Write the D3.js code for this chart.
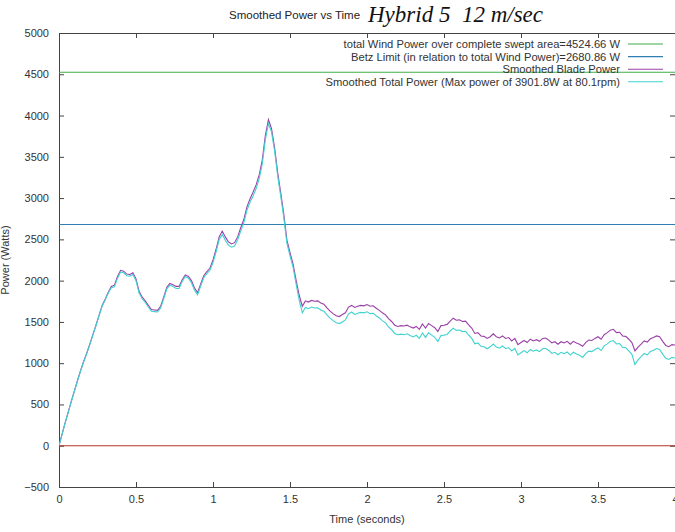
<!DOCTYPE html>
<html>
<head>
<meta charset="utf-8">
<style>
  html, body { margin: 0; padding: 0; background: #fff; }
  svg { display: block; }
</style>
<script src="https://cdn.jsdelivr.net/npm/d3@7"></script>
</head>
<body>
<svg id="chart" width="675" height="532" font-family="'Liberation Sans', Arial, sans-serif"></svg>
<script>
// Samples are recorded every 0.02 s from 0 to 4 s.
const sampleStep = 0.02;

// Smoothed Blade Power (W)
const bladePower = [
  0, 140, 280, 410, 540, 665, 790, 910, 1020, 1120,
  1230, 1345, 1460, 1580, 1700, 1775, 1860, 1930, 1945, 2050,
  2125, 2115, 2080, 2075, 2095, 2020, 1870, 1800, 1755, 1700,
  1650, 1645, 1640, 1690, 1800, 1920, 1965, 1950, 1930, 1930,
  2010, 2070, 2050, 2000, 1910, 1855, 1960, 2060, 2110, 2150,
  2250, 2380, 2530, 2600, 2530, 2470, 2445, 2460, 2530, 2640,
  2740, 2890, 2990, 3070, 3160, 3280, 3460, 3760, 3950, 3840,
  3610, 3310, 3060, 2800, 2490, 2340, 2200, 2000, 1820, 1690,
  1755, 1740, 1760, 1750, 1755, 1730, 1715, 1670, 1630, 1600,
  1575, 1565, 1590, 1610, 1680, 1700, 1675, 1690, 1700, 1695,
  1710, 1690, 1695, 1665, 1640, 1610, 1585, 1540, 1505, 1460,
  1445, 1455, 1450, 1460, 1440, 1425, 1445, 1410, 1475, 1425,
  1480, 1455, 1430, 1385, 1455, 1460, 1470, 1510, 1545, 1520,
  1525, 1505, 1510, 1465, 1425, 1360, 1370, 1330, 1325, 1300,
  1320, 1355, 1320, 1305, 1330, 1300, 1310, 1270, 1300, 1225,
  1250, 1275, 1250, 1290, 1270, 1285, 1265, 1300, 1305, 1280,
  1245, 1260, 1230, 1260, 1245, 1265, 1230, 1265, 1245, 1230,
  1205, 1250, 1280, 1275, 1300, 1320, 1290, 1345, 1370, 1400,
  1410, 1370, 1375, 1330, 1325, 1290, 1250, 1150, 1195, 1230,
  1270, 1255, 1295, 1310, 1330, 1320, 1265, 1215, 1200, 1225,
  1220
];

// Smoothed Total Power (W)
const totalPower = [
  0, 138, 277, 405, 535, 660, 785, 905, 1015, 1115,
  1225, 1340, 1455, 1575, 1690, 1765, 1850, 1915, 1925, 2030,
  2105, 2095, 2060, 2055, 2075, 2000, 1850, 1780, 1735, 1680,
  1630, 1625, 1620, 1670, 1780, 1900, 1945, 1930, 1905, 1905,
  1990, 2050, 2030, 1975, 1885, 1830, 1935, 2035, 2085, 2125,
  2220, 2350, 2495, 2560, 2490, 2430, 2405, 2420, 2495, 2600,
  2700, 2850, 2950, 3025, 3115, 3235, 3415, 3710, 3902, 3800,
  3570, 3270, 3020, 2760, 2450, 2300, 2160, 1955, 1760, 1610,
  1675, 1660, 1680, 1668, 1672, 1645, 1630, 1585, 1545, 1515,
  1490, 1480, 1500, 1525, 1595, 1620, 1590, 1605, 1615, 1610,
  1622, 1600, 1605, 1575, 1548, 1515, 1488, 1440, 1405, 1360,
  1345, 1352, 1345, 1356, 1335, 1318, 1338, 1300, 1365, 1312,
  1368, 1340, 1312, 1263, 1335, 1340, 1348, 1390, 1425, 1398,
  1402, 1383, 1386, 1340, 1300, 1235, 1245, 1205, 1200, 1175,
  1198, 1232, 1195, 1182, 1208, 1178, 1187, 1147, 1178, 1100,
  1127, 1152, 1126, 1166, 1145, 1160, 1140, 1175, 1180, 1154,
  1118, 1132, 1102, 1132, 1115, 1135, 1098, 1133, 1112, 1097,
  1070, 1115, 1146, 1140, 1165, 1185, 1154, 1210, 1234, 1264,
  1274, 1233, 1238, 1192, 1186, 1150, 1108, 985, 1040, 1078,
  1118, 1102, 1142, 1157, 1177, 1166, 1110, 1060, 1045, 1070,
  1062
];

// Reference levels (W)
const windPower = 4524.66;
const betzLimit = 2680.86;

const xTicks = [0, 0.5, 1, 1.5, 2, 2.5, 3, 3.5, 4];
const yTicks = [-500, 0, 500, 1000, 1500, 2000, 2500, 3000, 3500, 4000, 4500, 5000];

const legendLabels = [
  "total Wind Power over complete swept area=4524.66 W",
  "Betz Limit (in relation to total Wind Power)=2680.86 W",
  "Smoothed Blade Power",
  "Smoothed Total Power (Max power of 3901.8W at 80.1rpm)"
];

const colors = {
  wind: "#3fae49",
  betz: "#2f7fb0",
  blade: "#9b3fa8",
  total: "#3fd2cf",
  zero: "#b8312f",
  axis: "#444"
};

const svg = d3.select("#chart");
svg.append("rect").attr("width", 675).attr("height", 532).attr("fill", "#fff");

const plotLeft = 59, plotRight = 675, plotTop = 33, plotBottom = 487;
const x = d3.scaleLinear().domain([0, 4]).range([plotLeft, plotRight]);
const y = d3.scaleLinear().domain([-500, 5000]).range([plotBottom, plotTop]);

// Title
svg.append("text")
  .attr("x", 229).attr("y", 19)
  .attr("font-size", 11.5).attr("fill", "#222")
  .text("Smoothed Power vs Time");
svg.append("text")
  .attr("x", 368).attr("y", 22)
  .style("font-family", "'Liberation Serif', 'Times New Roman', serif")
  .style("font-style", "italic")
  .attr("font-size", 23).attr("fill", "#111")
  .attr("xml:space", "preserve")
  .text("Hybrid 5  12 m/sec");

// Axes with inward ticks
const tickLen = 5;
const gx = svg.append("g").attr("transform", `translate(0,${plotBottom})`)
  .call(d3.axisBottom(x).tickValues(xTicks).tickFormat(d3.format("")).tickSize(-tickLen).tickPadding(8));
const gxTop = svg.append("g").attr("transform", `translate(0,${plotTop})`)
  .call(d3.axisTop(x).tickValues(xTicks).tickFormat("").tickSize(-tickLen));
const gy = svg.append("g").attr("transform", `translate(${plotLeft},0)`)
  .call(d3.axisLeft(y).tickValues(yTicks).tickFormat(d3.format("")).tickSize(-tickLen).tickPadding(10));
const gyRight = svg.append("g").attr("transform", `translate(${plotRight},0)`)
  .call(d3.axisRight(y).tickValues(yTicks).tickFormat("").tickSize(-tickLen));

[gx, gxTop, gy, gyRight].forEach(g => {
  g.select(".domain").remove();
  g.attr("font-family", null);
  g.selectAll("line").attr("stroke", colors.axis);
  g.selectAll("text").attr("font-size", 11).attr("fill", "#333");
});

// Border
svg.append("rect")
  .attr("x", plotLeft + 0.5).attr("y", plotTop + 0.5)
  .attr("width", plotRight - plotLeft).attr("height", plotBottom - plotTop)
  .attr("fill", "none").attr("stroke", colors.axis).attr("stroke-width", 1);

// Axis titles
svg.append("text")
  .attr("x", x(2)).attr("y", 523)
  .attr("text-anchor", "middle").attr("font-size", 11).attr("fill", "#333")
  .text("Time (seconds)");
svg.append("text")
  .attr("transform", `translate(9,${(plotTop + plotBottom) / 2}) rotate(-90)`)
  .attr("text-anchor", "middle").attr("font-size", 11).attr("fill", "#333")
  .text("Power (Watts)");

// Plot content clipped to the frame
svg.append("clipPath").attr("id", "plotClip")
  .append("rect").attr("x", plotLeft).attr("y", plotTop)
  .attr("width", plotRight - plotLeft).attr("height", plotBottom - plotTop);
const plot = svg.append("g").attr("clip-path", "url(#plotClip)");

function hLine(v, color) {
  plot.append("line")
    .attr("x1", plotLeft).attr("x2", plotRight)
    .attr("y1", y(v)).attr("y2", y(v))
    .attr("stroke", color).attr("stroke-width", 1.1);
}
hLine(0, colors.zero);
hLine(windPower, colors.wind);
hLine(betzLimit, colors.betz);

const line = d3.line()
  .x((d, i) => x(i * sampleStep))
  .y(d => y(d));

plot.append("path").datum(bladePower)
  .attr("d", line).attr("fill", "none")
  .attr("stroke", colors.blade).attr("stroke-width", 1.1);
plot.append("path").datum(totalPower)
  .attr("d", line).attr("fill", "none")
  .attr("stroke", colors.total).attr("stroke-width", 1.1);

// Legend
const legendColors = [colors.wind, colors.betz, colors.blade, colors.total];
const legend = svg.append("g");
legendLabels.forEach((label, i) => {
  const ly = 44 + i * 12.6;
  legend.append("text")
    .attr("x", 620).attr("y", ly + 4)
    .attr("text-anchor", "end").attr("font-size", 11.2).attr("fill", "#333")
    .text(label);
  legend.append("line")
    .attr("x1", 628).attr("x2", 663)
    .attr("y1", ly).attr("y2", ly)
    .attr("stroke", legendColors[i]).attr("stroke-width", 1.1);
});
</script>
</body>
</html>
